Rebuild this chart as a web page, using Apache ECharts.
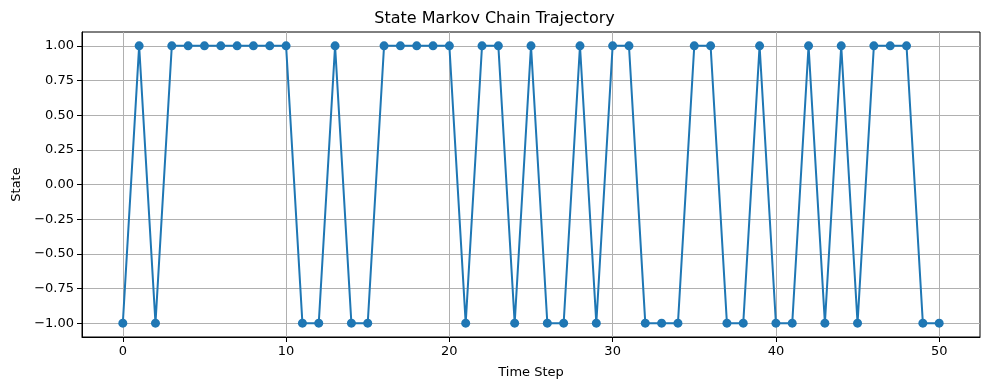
<!DOCTYPE html>
<html>
<head>
<meta charset="utf-8">
<script src="https://cdn.jsdelivr.net/npm/echarts@6/dist/echarts.min.js"></script>
<style>html,body{margin:0;padding:0;background:#fff;}#c{width:989px;height:390px;}</style>
</head>
<body>
<div id="c"></div>
<script>
const steps = Array.from({length: 51}, (_, i) => i);
const states = [-1,1,-1,1,1,1,1,1,1,1,1,-1,-1,1,-1,-1,1,1,1,1,1,-1,1,1,-1,1,-1,-1,1,-1,1,1,-1,-1,-1,1,1,-1,-1,1,-1,-1,1,-1,1,-1,1,1,1,-1,-1];
const xTicks = [0,10,20,30,40,50];
const yTicks = [-1,-0.75,-0.5,-0.25,0,0.25,0.5,0.75,1];
const titleText = 'State Markov Chain Trajectory';
const xName = 'Time Step';
const yName = 'State';

const chart = echarts.init(document.getElementById('c'), null, {renderer: 'canvas'});
const font = 'DejaVu Sans';
chart.setOption({
  animation: false,
  title: {text: titleText, left: 'center', top: 6, textStyle: {fontFamily: font, fontSize: 16, fontWeight: 'normal', color: '#000'}},
  grid: {left: 82, right: 9, top: 32, bottom: 53, show: true, borderColor: '#000', borderWidth: 1, containLabel: false},
  xAxis: {
    type: 'value', min: -2.5, max: 52.5,
    name: xName, nameLocation: 'middle', nameGap: 29,
    nameTextStyle: {fontFamily: font, fontSize: 13, color: '#000'},
    axisLine: {show: true, onZero: false, lineStyle: {color: '#000', width: 1}},
    axisTick: {show: true, customValues: xTicks, length: 5, lineStyle: {color: '#000'}},
    axisLabel: {customValues: xTicks, fontFamily: font, fontSize: 13, color: '#000', margin: 8},
    splitLine: {show: true, lineStyle: {color: '#b0b0b0', width: 1}}
  },
  yAxis: {
    type: 'value', min: -1.1, max: 1.1,
    name: yName, nameLocation: 'middle', nameGap: 58, nameRotate: 90,
    nameTextStyle: {fontFamily: font, fontSize: 13, color: '#000'},
    axisLine: {show: true, onZero: false, lineStyle: {color: '#000', width: 1}},
    axisTick: {show: true, customValues: yTicks, length: 5, lineStyle: {color: '#000'}},
    axisLabel: {customValues: yTicks, fontFamily: font, fontSize: 13, color: '#000', margin: 8, formatter: v => v.toFixed(2).replace('-', '\u2212')},
    splitLine: {show: true, lineStyle: {color: '#b0b0b0', width: 1}}
  },
  series: [{
    type: 'line',
    data: steps.map((s, i) => [s, states[i]]),
    symbol: 'circle', symbolSize: 9, showAllSymbol: true,
    lineStyle: {color: '#1f77b4', width: 2},
    itemStyle: {color: '#1f77b4', borderWidth: 0}
  }]
});
</script>
</body>
</html>
